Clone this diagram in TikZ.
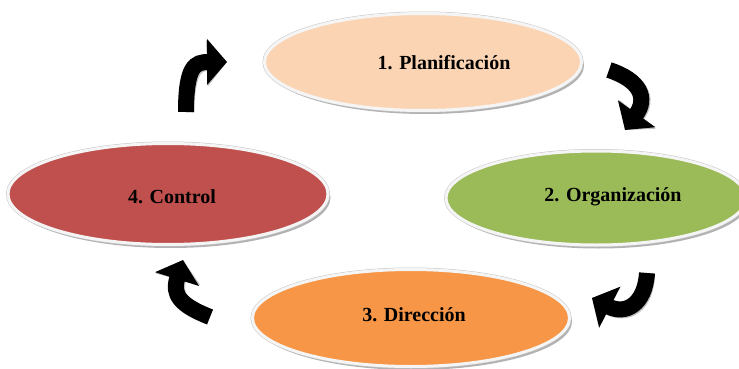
\documentclass[tikz,border=0pt]{standalone}
\usepackage{fontspec}
\setmainfont{Liberation Serif}
\usetikzlibrary{shapes.geometric,shadows,arrows.meta}
\definecolor{peach}{RGB}{251,212,180}
\definecolor{leafgreen}{RGB}{155,187,89}
\definecolor{brick}{RGB}{192,80,77}
\definecolor{tangerine}{RGB}{247,150,70}
\begin{document}
\begin{tikzpicture}[x=1pt,y=-1pt,
  phase/.style={ellipse, inner sep=0pt, minimum width=317pt, minimum height=97pt,
    drop shadow={shadow xshift=2.5pt, shadow yshift=-3.5pt, fill=black, opacity=0.3},
    preaction={draw=gray!45, line width=4pt}, draw=white!96!black, line width=3pt},
  phasetext/.style={font=\fontsize{20}{24}\selectfont\bfseries},
  turn/.style={line width=16pt, -{Triangle[length=20pt,width=45pt]}}]
\useasboundingbox (0,0) rectangle (739,369);
\node [phase, fill=peach] (plan) at (423,62) {};
\node [phase, fill=leafgreen, minimum width=300pt, minimum height=94pt] (orga) at (596,198) {};
\node [phase, fill=tangerine] (dir) at (411,318) {};
\node [phase, fill=brick, minimum width=320pt, minimum height=101pt] (ctrl) at (168,194) {};
\node [phasetext] (plantext) at (444,63) {1. Planificación};
\node [phasetext] (orgatext) at (613,197) {2. Organización};
\node [phasetext] (dirtext) at (414,315) {3. Dirección};
\node [phasetext] (ctrltext) at (172,197) {4. Control};
\coordinate (t1) at (186,112); \coordinate (h1) at (227,62);
\coordinate (t2) at (609,70);  \coordinate (h2) at (625,130);
\coordinate (t3) at (647,273); \coordinate (h3) at (592,298);
\coordinate (t4) at (210,317); \coordinate (h4) at (183,260);
\draw [turn, gray!50, shift={(1.5,1.5)}] (t1) .. controls (186,66) and (195,62) .. (h1);
\draw [turn, gray!50, shift={(1.5,1.5)}] (t2) .. controls (640,80) and (648,98) .. (h2);
\draw [turn, gray!50, shift={(1.5,1.5)}] (t3) .. controls (645,305) and (625,315) .. (h3);
\draw [turn, gray!50, shift={(1.5,1.5)}] (t4) .. controls (180,305) and (172,295) .. (h4);
\draw [turn] (t1) .. controls (186,66) and (195,62) .. (h1);
\draw [turn] (t2) .. controls (640,80) and (648,98) .. (h2);
\draw [turn] (t3) .. controls (645,305) and (625,315) .. (h3);
\draw [turn] (t4) .. controls (180,305) and (172,295) .. (h4);
\end{tikzpicture}
\end{document}
